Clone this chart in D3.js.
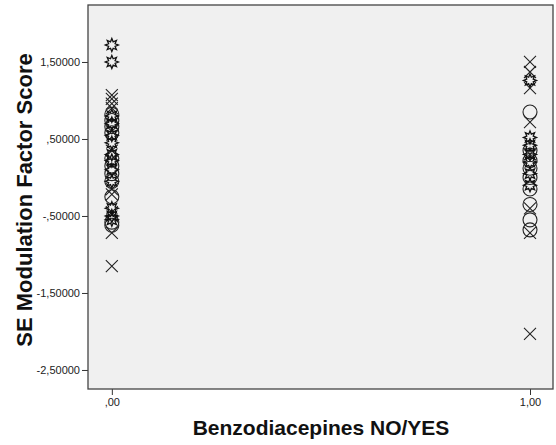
<!DOCTYPE html>
<html>
<head>
<meta charset="utf-8">
<script src="https://cdn.jsdelivr.net/npm/d3@7"></script>
<style>
	body { margin: 0; background: #fff; }
	svg { display: block; font-family: Arial, "Liberation Sans", sans-serif; }
	.tick text { font-size: 11px; fill: #222; }
	.tick line { stroke: #333; }
	.axtitle { font-weight: bold; fill: #111; }
</style>
</head>
<body>
<svg id="chart" width="556" height="445"></svg>
<script>
"use strict";

// group (0 = NO, 1 = YES) and score, split by marker type
var xTicks = [0, 1];
var xTickLabels = [",00", "1,00"];
var yTicks = [1.5, 0.5, -0.5, -1.5, -2.5];
var yTickLabels = ["1,50000", ",50000", "-,50000", "-1,50000", "-2,50000"];

var noCross   = [1.07, 1.02, 0.96, 0.90, 0.60, 0.35, -0.15, -0.22, -0.45, -0.72, -1.15];
var noCircle  = [0.82, 0.74, 0.66, 0.58, 0.25, 0.15, 0.05, -0.05, -0.25, -0.58, -0.62];
var noStar    = [1.72, 1.50, 0.80, 0.70, 0.55, 0.45, 0.30, 0.22, 0.10, -0.05, -0.40, -0.50, -0.55];

var yesCross  = [1.50, 1.37, 1.16, 0.72, 0.30, -0.40, -0.72, -2.03];
var yesCircle = [0.85, 0.35, 0.22, 0.12, 0.00, -0.15, -0.35, -0.55, -0.68];
var yesStar   = [1.26, 0.52, 0.42, 0.30, 0.20, 0.05, -0.10];

var margin = {left: 88, top: 5, right: 3, bottom: 56};
var width = 556 - margin.left - margin.right;
var height = 445 - margin.top - margin.bottom;

var svg = d3.select("#chart");
var g = svg.append("g").attr("transform", `translate(${margin.left},${margin.top})`);

var xscale = d3.scaleLinear().domain([-0.057, 1.055]).range([0, width]);
var yscale = d3.scaleLinear().domain([-2.747, 2.24]).range([height, 0]);

g.append("rect")
	.attr("width", width).attr("height", height)
	.attr("fill", "#f0f0f0");

// axes
var yaxis = d3.axisLeft(yscale)
	.tickValues(yTicks)
	.tickSize(6)
	.tickPadding(2)
	.tickFormat((d, i) => yTickLabels[i]);
var xaxis = d3.axisBottom(xscale)
	.tickValues(xTicks)
	.tickSize(6)
	.tickPadding(3)
	.tickFormat((d, i) => xTickLabels[i]);

g.append("g").call(yaxis).select(".domain").remove();
g.append("g").attr("transform", `translate(0,${height})`).call(xaxis).select(".domain").remove();

// frame
g.append("rect")
	.attr("width", width).attr("height", height)
	.attr("fill", "none").attr("stroke", "#444").attr("stroke-width", 1.3);

// marker shapes
function starPath(ro, ri) {
	let pts = [];
	for (let k = 0; k < 16; k++) {
		let a = Math.PI * k / 8 - Math.PI / 2;
		let r = k % 2 == 0 ? ro : ri;
		pts.push([r * Math.cos(a), r * Math.sin(a)]);
	}
	return "M" + pts.map(p => p[0].toFixed(2) + "," + p[1].toFixed(2)).join("L") + "Z";
}
var crossPath = "M-6,-6L6,6M-6,6L6,-6";

function drawSeries(group, vals, kind) {
	let sel = g.append("g").selectAll("path." + kind).data(vals).enter();
	if (kind == "circle") {
		sel.append("circle")
			.attr("cx", xscale(group))
			.attr("cy", d => yscale(d))
			.attr("r", 7)
			.attr("fill", "none")
			.attr("stroke", "#222")
			.attr("stroke-width", 1.1);
	} else if (kind == "cross") {
		sel.append("path")
			.attr("d", crossPath)
			.attr("transform", d => `translate(${xscale(group)},${yscale(d)})`)
			.attr("fill", "none")
			.attr("stroke", "#222")
			.attr("stroke-width", 1.1);
	} else {
		sel.append("path")
			.attr("d", starPath(6.5, 3.5))
			.attr("transform", d => `translate(${xscale(group)},${yscale(d)})`)
			.attr("fill", "none")
			.attr("stroke", "#111")
			.attr("stroke-width", 1.3);
	}
}

drawSeries(0, noCircle, "circle");
drawSeries(0, noCross, "cross");
drawSeries(0, noStar, "star");
drawSeries(1, yesCircle, "circle");
drawSeries(1, yesCross, "cross");
drawSeries(1, yesStar, "star");

// axis titles
svg.append("text")
	.attr("class", "axtitle")
	.attr("text-anchor", "middle")
	.attr("font-size", 22)
	.attr("transform", `translate(32,200) rotate(-90)`)
	.text("SE Modulation Factor Score");
svg.append("text")
	.attr("class", "axtitle")
	.attr("text-anchor", "middle")
	.attr("font-size", 21)
	.attr("x", 321).attr("y", 435)
	.text("Benzodiacepines NO/YES");
</script>
</body>
</html>
